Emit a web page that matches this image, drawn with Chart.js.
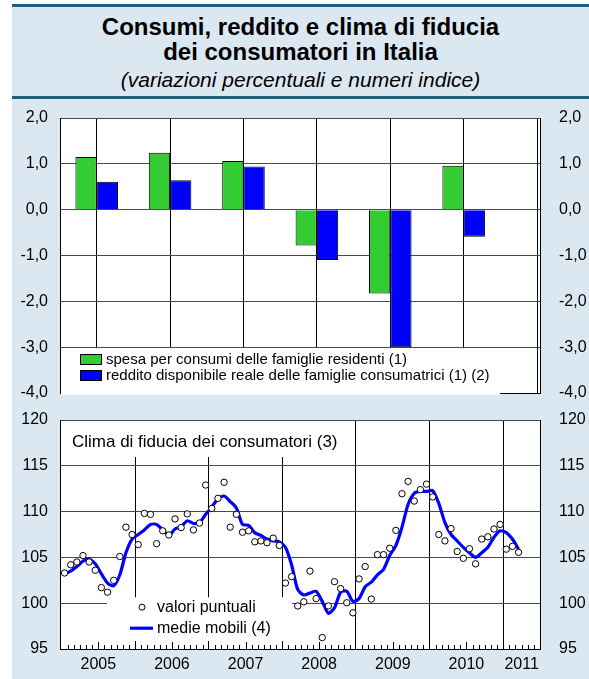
<!DOCTYPE html>
<html>
<head>
<meta charset="utf-8">
<script src="https://cdn.jsdelivr.net/npm/chart.js@4.4.1/dist/chart.umd.min.js"></script>
<style>
  body { margin: 0; background: #fff; font-family: "Liberation Sans", Arial, sans-serif; }
  #panel { position: absolute; left: 12px; top: 4px; width: 577px; height: 675px; background: #dce8f1; }
  .rule { position: absolute; left: 12px; width: 577px; height: 3px; background: #1f5f82; }
  .t { position: absolute; left: 12px; width: 577px; text-align: center; color: #000; white-space: nowrap; }
  .box { position: absolute; left: 0; width: 589px; }
</style>
</head>
<body>
<div id="panel"></div>
<div class="rule" style="top:4px"></div>
<div class="rule" style="top:96px"></div>
<div class="t" style="top:13px;font:bold 24px/27px 'Liberation Sans',Arial,sans-serif">Consumi, reddito e clima di fiducia</div>
<div class="t" style="top:38px;font:bold 24px/27px 'Liberation Sans',Arial,sans-serif">dei consumatori in Italia</div>
<div class="t" style="top:68px;font:italic 21px/24px 'Liberation Sans',Arial,sans-serif">(variazioni percentuali e numeri indice)</div>
<div class="box" style="top:100px;height:300px"><canvas id="topChart"></canvas></div>
<div class="box" style="top:400px;height:279px"><canvas id="lowChart"></canvas></div>
<script>
// anni (2011 solo parziale)
var years = ['2005', '2006', '2007', '2008', '2009', '2010', '2011'];

// variazioni percentuali annue
var spesa = [1.15, 1.24, 1.06, -0.78, -1.83, 0.96];
var reddito = [0.61, 0.64, 0.94, -1.10, -3.0, -0.59];

// clima di fiducia, dati mensili gen 2005 - mar 2011
var valori = [
  103.3, 104.2, 104.5, 105.2, 104.5, 103.6, 101.7, 101.2, 102.5, 105.1, 108.3, 107.5,
  106.4, 109.8, 109.7, 106.5, 107.9, 107.45, 109.2, 108.25, 109.75, 108.0, 108.75, 112.9,
  110.35, 111.45, 113.2, 108.3, 109.7, 107.75, 107.9, 106.7, 106.8, 106.6, 107.1, 106.3,
  102.2, 102.9, 99.7, 100.15, 103.5, 100.5, 96.25, 99.7, 102.35, 101.6, 100.05, 98.95,
  102.65, 104.0, 100.45, 105.3, 105.3, 106.0, 107.95, 111.95, 113.3, 111.15, 112.4, 113.0,
  111.6, 107.5, 106.8, 108.15, 105.65, 104.9, 105.95, 104.3, 107.0, 107.25, 108.1, 108.6,
  105.9, 106.2, 105.55
];
var medie = [
  103.2, 103.5, 104.0, 104.6, 104.8, 104.3, 103.2, 102.2, 101.9, 103.1, 105.5, 107.0,
  107.5, 108.0, 108.6, 108.6, 108.0, 107.4, 108.1, 108.35, 109.0, 108.7, 108.8, 109.7,
  110.5, 111.4, 111.7, 111.1, 110.4, 108.6, 108.5, 107.7, 107.4, 107.0, 106.8, 106.7,
  106.1, 104.2, 101.5, 100.9, 101.1, 101.3, 100.2, 98.9, 99.5, 101.2, 101.3, 100.2,
  100.5, 101.8, 102.3, 103.1, 103.7, 105.2, 106.3, 108.3, 110.8, 112.0, 112.2, 112.2,
  112.3, 110.9, 108.8, 107.5, 106.8, 106.1, 105.5, 105.0, 105.5, 106.1, 107.2, 107.9,
  107.7, 107.0, 105.9
];

var FONT = '"Liberation Sans", Arial, sans-serif';
var topTicks = [-4, -3, -2, -1, 0, 1, 2];
var lowTicks = [95, 100, 105, 110, 115, 120];

// sfondo bianco dell'area del grafico
var chartBg = {
  id: 'chartBg',
  beforeDraw: function (chart) {
    var a = chart.chartArea, ctx = chart.ctx;
    ctx.save();
    ctx.fillStyle = '#fff';
    ctx.fillRect(a.left, a.top, a.right - a.left, a.bottom - a.top);
    ctx.restore();
  }
};

// legenda dentro il grafico in alto
var topLegend = {
  id: 'topLegend',
  afterDatasetsDraw: function (chart) {
    var ctx = chart.ctx, a = chart.chartArea;
    var y0 = chart.scales.y.getPixelForValue(-3);
    var x1 = chart.scales.x.getPixelForValue(6);
    ctx.save();
    ctx.fillStyle = '#fff';
    ctx.fillRect(a.left + 1, y0 + 1, x1 - a.left - 1.5, a.bottom - y0 + 1);
    ctx.font = '15px ' + FONT;
    ctx.textBaseline = 'middle';
    chart.data.datasets.forEach(function (ds, k) {
      var by = Math.round(y0) + 7 + k * 16;
      ctx.fillStyle = ds.backgroundColor;
      ctx.fillRect(a.left + 20, by, 21, 10);
      ctx.strokeStyle = '#000';
      ctx.lineWidth = 1;
      ctx.strokeRect(a.left + 20.5, by + 0.5, 21, 10);
      ctx.fillStyle = '#000';
      ctx.fillText(ds.label, a.left + 46, by + 5.5);
    });
    ctx.restore();
  }
};

// tacche mensili, titolo e legenda del grafico in basso
var lowDecor = {
  id: 'lowDecor',
  afterDatasetsDraw: function (chart) {
    var ctx = chart.ctx, a = chart.chartArea, xs = chart.scales.x, ys = chart.scales.y;
    ctx.save();
    ctx.strokeStyle = '#000';
    ctx.lineWidth = 1;
    for (var m = 1; m < xs.max; m++) {
      if (m % 12 === 0) continue;
      var px = Math.round(xs.getPixelForValue(m)) + 0.5;
      var len = m % 12 === 6 ? 7 : 4;
      ctx.beginPath();
      ctx.moveTo(px, a.bottom);
      ctx.lineTo(px, a.bottom - len);
      ctx.stroke();
    }
    // titolo
    var title = 'Clima di fiducia dei consumatori (3)';
    ctx.font = '17px ' + FONT;
    var w = ctx.measureText(title).width;
    ctx.fillStyle = '#fff';
    ctx.fillRect(a.left + 1, a.top + 1, w + 16, 36);
    ctx.fillStyle = '#000';
    ctx.textBaseline = 'middle';
    ctx.fillText(title, a.left + 12, a.top + 22);
    // legenda
    var y100 = ys.getPixelForValue(100);
    ctx.fillStyle = '#fff';
    ctx.fillRect(a.left + 47, y100 - 6, 185, a.bottom - 8 - (y100 - 6));
    var pts = chart.data.datasets[0], ln = chart.data.datasets[1];
    ctx.beginPath();
    ctx.arc(a.left + 82, y100 + 4, 3, 0, Math.PI * 2);
    ctx.fillStyle = '#fff';
    ctx.fill();
    ctx.strokeStyle = '#000';
    ctx.stroke();
    ctx.beginPath();
    ctx.moveTo(a.left + 70, y100 + 25);
    ctx.lineTo(a.left + 93, y100 + 25);
    ctx.strokeStyle = ln.borderColor;
    ctx.lineWidth = 3.2;
    ctx.stroke();
    ctx.fillStyle = '#000';
    ctx.font = '16px ' + FONT;
    ctx.fillText(pts.label, a.left + 97, y100 + 4);
    ctx.fillText(ln.label, a.left + 97, y100 + 25);
    ctx.restore();
  }
};

// larghezza/altezza fisse degli assi, senza padding automatico
function fixWidth(w) { return function (s) { s.width = w; s.paddingTop = 0; s.paddingBottom = 0; }; }
function fixHeight(h) { return function (s) { s.height = h; s.paddingLeft = 0; s.paddingRight = 0; }; }
function comma(v) { return v.toFixed(1).replace('.', ','); }

// ---- grafico in alto: barre annuali ----
new Chart(document.getElementById('topChart').getContext('2d'), {
  type: 'bar',
  data: {
    datasets: [{
      label: 'spesa per consumi delle famiglie residenti (1)',
      data: spesa.map(function (v, i) { return { x: i + 0.5, y: v }; }),
      backgroundColor: '#33cc33',
      borderColor: '#000',
      borderWidth: 1
    }, {
      label: 'reddito disponibile reale delle famiglie consumatrici (1) (2)',
      data: reddito.map(function (v, i) { return { x: i + 0.5, y: v }; }),
      backgroundColor: '#0000ff',
      borderColor: '#000',
      borderWidth: 1
    }]
  },
  options: {
    responsive: true,
    maintainAspectRatio: false,
    animation: false,
    layout: { autoPadding: false, padding: { top: 18, bottom: 7, left: 0, right: 0 } },
    datasets: { bar: { categoryPercentage: 0.58, barPercentage: 1.0 } },
    plugins: { legend: { display: false }, tooltip: { enabled: false } },
    scales: {
      x: {
        type: 'linear', min: 0, max: 6.54, offset: false,
        afterBuildTicks: function (s) { s.ticks = years.slice(1).map(function (_, k) { return { value: k + 1 }; }); },
        afterFit: fixHeight(0),
        ticks: { display: false },
        grid: { color: '#000', drawTicks: false },
        border: { display: true, color: '#000' }
      },
      y: {
        min: -4, max: 2,
        afterBuildTicks: function (s) { s.ticks = topTicks.map(function (v) { return { value: v }; }); },
        afterFit: fixWidth(60),
        ticks: { padding: 12, color: '#000', font: { family: FONT, size: 16 }, callback: comma },
        grid: { color: '#4a4a4a', drawTicks: false },
        border: { display: true, color: '#000' }
      },
      y2: {
        position: 'right', min: -4, max: 2,
        afterBuildTicks: function (s) { s.ticks = topTicks.map(function (v) { return { value: v }; }); },
        afterFit: fixWidth(49),
        ticks: { padding: 11, color: '#000', font: { family: FONT, size: 16 }, callback: comma },
        grid: { display: false },
        border: { display: true, color: '#000' }
      }
    }
  },
  plugins: [chartBg, topLegend]
});

// ---- grafico in basso: clima di fiducia mensile ----
new Chart(document.getElementById('lowChart').getContext('2d'), {
  type: 'line',
  data: {
    datasets: [{
      label: 'valori puntuali',
      data: valori.map(function (v, i) { return { x: i + 0.5, y: v }; }),
      showLine: false,
      pointRadius: 3.2,
      pointBorderWidth: 1,
      pointBorderColor: '#000',
      pointBackgroundColor: '#fff'
    }, {
      label: 'medie mobili (4)',
      data: medie.map(function (v, i) { return { x: i + 0.5, y: v }; }),
      borderColor: '#0000ff',
      borderWidth: 3.2,
      pointRadius: 0,
      tension: 0.25,
      fill: false
    }]
  },
  options: {
    responsive: true,
    maintainAspectRatio: false,
    animation: false,
    layout: { autoPadding: false, padding: { top: 20, bottom: 0, left: 0, right: 0 } },
    plugins: { legend: { display: false }, tooltip: { enabled: false } },
    scales: {
      x: {
        type: 'linear', min: -0.25, max: 78, weight: 0,
        afterBuildTicks: function (s) { s.ticks = years.slice(1).map(function (_, k) { return { value: (k + 1) * 12 }; }); },
        afterFit: fixHeight(0),
        ticks: { display: false },
        grid: { color: '#000', drawTicks: false },
        border: { display: true, color: '#000' }
      },
      xl: {
        type: 'linear', position: 'bottom', min: -0.25, max: 78, weight: 1,
        afterBuildTicks: function (s) {
          s.ticks = years.map(function (_, k) {
            return { value: k < years.length - 1 ? k * 12 + 6 : k * 12 + 3 };
          });
        },
        afterFit: fixHeight(30),
        ticks: { padding: 6, color: '#000', maxRotation: 0, autoSkip: false, font: { family: FONT, size: 16 },
                 callback: function (v, i) { return years[i]; } },
        grid: { display: false, drawTicks: false },
        border: { display: false }
      },
      y: {
        min: 95, max: 120,
        afterBuildTicks: function (s) { s.ticks = lowTicks.map(function (v) { return { value: v }; }); },
        afterFit: fixWidth(60),
        ticks: { padding: 12, color: '#000', font: { family: FONT, size: 16 } },
        grid: { color: '#4a4a4a', drawTicks: false },
        border: { display: true, color: '#000' }
      },
      y2: {
        position: 'right', min: 95, max: 120,
        afterBuildTicks: function (s) { s.ticks = lowTicks.map(function (v) { return { value: v }; }); },
        afterFit: fixWidth(49),
        ticks: { padding: 11, color: '#000', font: { family: FONT, size: 16 } },
        grid: { display: false },
        border: { display: true, color: '#000' }
      }
    }
  },
  plugins: [chartBg, lowDecor]
});
</script>
</body>
</html>
